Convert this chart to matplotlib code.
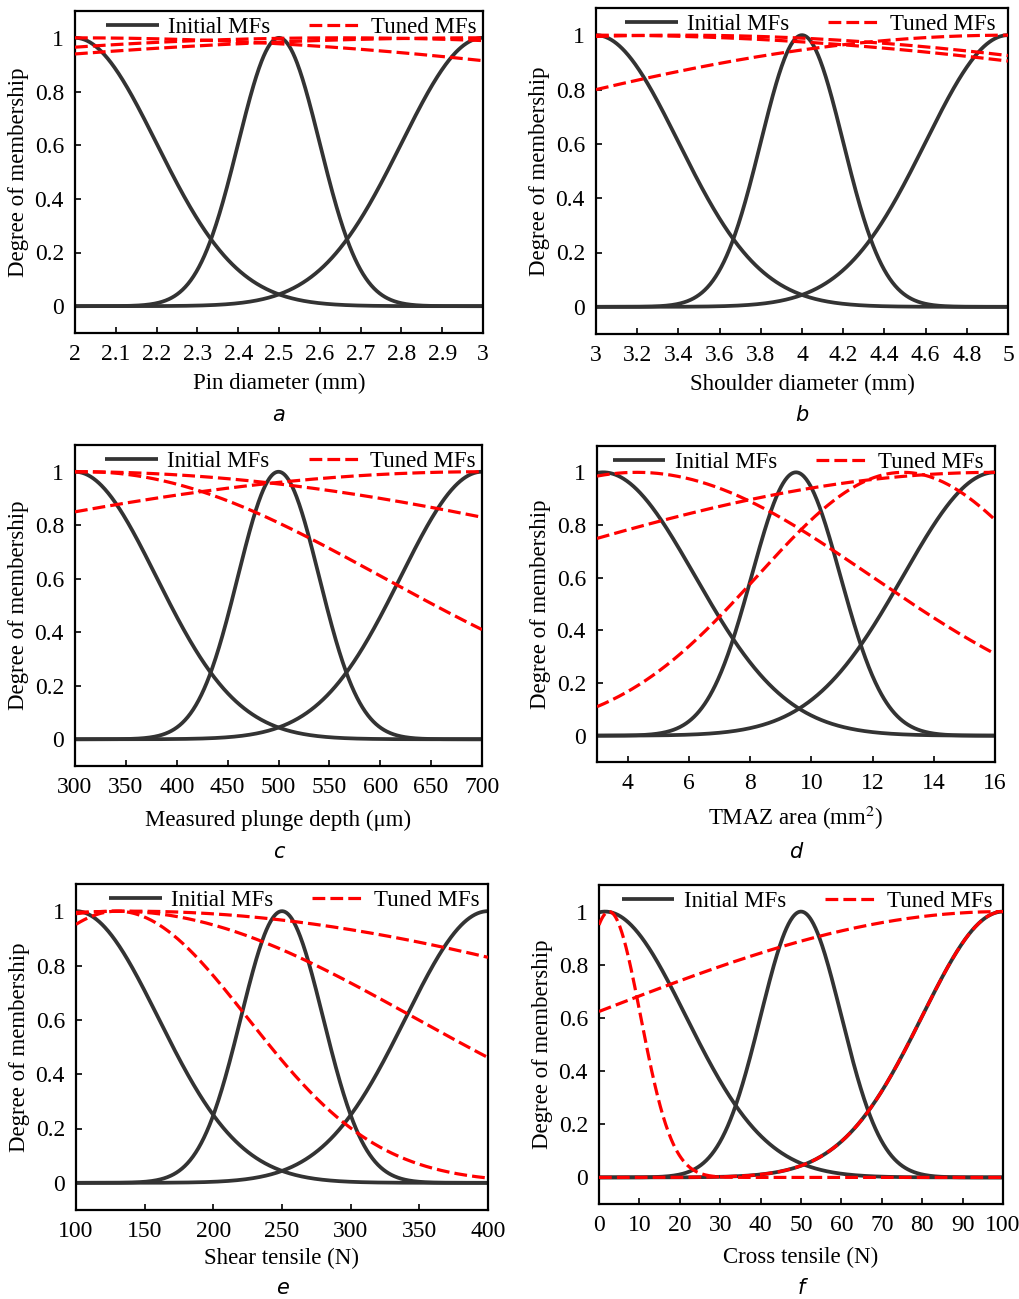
import numpy as np
import matplotlib
matplotlib.use("Agg")
import matplotlib.pyplot as plt

plt.rcParams['font.family'] = ['Liberation Serif', 'DejaVu Serif']
plt.rcParams['mathtext.fontset'] = 'stix'

# ---- data: Gaussian membership-function parameters (center, sigma) ----
panel_letters = ['a', 'b', 'c', 'd', 'e', 'f']
xlabels = ['Pin diameter (mm)', 'Shoulder diameter (mm)', 'Measured plunge depth (μm)',
           'TMAZ area (mm$^2$)', 'Shear tensile (N)', 'Cross tensile (N)']
xlims = [(2, 3), (3, 5), (300, 700), (3, 16), (100, 400), (0, 100)]
xticks_a = [2, 2.1, 2.2, 2.3, 2.4, 2.5, 2.6, 2.7, 2.8, 2.9, 3]
xticks_b = [3, 3.2, 3.4, 3.6, 3.8, 4, 4.2, 4.4, 4.6, 4.8, 5]
xticks_c = [300, 350, 400, 450, 500, 550, 600, 650, 700]
xticks_d = [4, 6, 8, 10, 12, 14, 16]
xticks_e = [100, 150, 200, 250, 300, 350, 400]
xticks_f = [0, 10, 20, 30, 40, 50, 60, 70, 80, 90, 100]
xticklabels_a = ['2', '2.1', '2.2', '2.3', '2.4', '2.5', '2.6', '2.7', '2.8', '2.9', '3']
xticklabels_b = ['3', '3.2', '3.4', '3.6', '3.8', '4', '4.2', '4.4', '4.6', '4.8', '5']
yticks = [0, 0.2, 0.4, 0.6, 0.8, 1]
yticklabels = ['0', '0.2', '0.4', '0.6', '0.8', '1']

# initial MFs: centers and sigmas
init_c_a = [2, 2.5, 3];         init_s_a = [0.2, 0.1, 0.2]
init_c_b = [3, 4, 5];           init_s_b = [0.4, 0.2, 0.4]
init_c_c = [300, 500, 700];     init_s_c = [80, 40, 80]
init_c_d = [3.2, 9.5, 16];      init_s_d = [3.0, 1.45, 3.0]
init_c_e = [100, 250, 400];     init_s_e = [60, 30, 60]
init_c_f = [1.5, 50, 100];      init_s_f = [20, 10, 20]

# tuned MFs: centers and sigmas
tuned_c_a = [2.0, 2.65, 3.0];       tuned_s_a = [2.37, 2.44, 2.84]
tuned_c_b = [3.0, 3.4, 5.0];        tuned_s_b = [4.47, 4.05, 2.99]
tuned_c_c = [300, 310, 700];        tuned_s_c = [655, 292, 702]
tuned_c_d = [4.3, 13.0, 16.0];      tuned_s_d = [7.65, 4.76, 17.1]
tuned_c_e = [140, 130, 130];        tuned_s_e = [426, 217, 95]
tuned_c_f = [2.5, 100, 100];        tuned_s_f = [7.8, 103, 20]

init_c = [init_c_a, init_c_b, init_c_c, init_c_d, init_c_e, init_c_f]
init_s = [init_s_a, init_s_b, init_s_c, init_s_d, init_s_e, init_s_f]
tuned_c = [tuned_c_a, tuned_c_b, tuned_c_c, tuned_c_d, tuned_c_e, tuned_c_f]
tuned_s = [tuned_s_a, tuned_s_b, tuned_s_c, tuned_s_d, tuned_s_e, tuned_s_f]
xticks_all = [xticks_a, xticks_b, xticks_c, xticks_d, xticks_e, xticks_f]
xticklabels_all = [xticklabels_a, xticklabels_b, None, None, None, None]

def gaussmf(x, c, s):
    return np.exp(-(x - c) ** 2 / (2 * s ** 2))

W, H = 1020, 1299
fig = plt.figure(figsize=(W / 100, H / 100), dpi=100)

# axes boxes in pixels: left, top, right, bottom
boxes = [(75, 11, 483, 333), (596, 8, 1008, 334),
         (75, 445, 482, 766), (597, 446, 995, 762),
         (76, 884, 488, 1210), (599, 885, 1003, 1204)]
letter_y = [415, 415, 852, 852, 1288, 1288]
xlabel_y = [383, 384, 820, 818, 1258, 1257]
legend_x = [0.53, 0.52, 0.53, 0.505, 0.53, 0.515]

black = '#333333'
red = '#ff0000'
FS = 16.5

for i in range(6):
    l, t, r, b = boxes[i]
    ax = fig.add_axes([l / W, 1 - b / H, (r - l) / W, (b - t) / H])
    x0, x1 = xlims[i]
    x = np.linspace(x0, x1, 600)
    for k, (c, s) in enumerate(zip(init_c[i], init_s[i])):
        ax.plot(x, gaussmf(x, c, s), color=black, lw=2.7, solid_capstyle='butt',
                label='Initial MFs' if k == 0 else None, zorder=2)
    for k, (c, s) in enumerate(zip(tuned_c[i], tuned_s[i])):
        ax.plot(x, gaussmf(x, c, s), color=red, lw=2.3, dashes=(4, 1.6),
                label='Tuned MFs' if k == 0 else None, zorder=3)
    ax.set_xlim(x0, x1)
    ax.set_ylim(-0.1, 1.1)
    ax.set_yticks(yticks)
    ax.set_yticklabels(yticklabels)
    ax.set_xticks(xticks_all[i])
    if xticklabels_all[i] is not None:
        ax.set_xticklabels(xticklabels_all[i])
    ax.tick_params(direction='in', length=4, width=1.2, labelsize=17, pad=8)
    for sp in ax.spines.values():
        sp.set_linewidth(1.6)
    ax.set_ylabel('Degree of membership', fontsize=FS, labelpad=4)
    cx = (l + r) / 2
    fig.text(cx / W, 1 - xlabel_y[i] / H, xlabels[i], fontsize=FS,
             ha='center', va='center')
    fig.text(cx / W, 1 - letter_y[i] / H, panel_letters[i], fontsize=15,
             style='italic', family='DejaVu Sans', ha='center', va='center')
    ax.legend(loc='upper center', ncol=2, frameon=False, fontsize=FS,
              handlelength=2.3, columnspacing=1.7, handletextpad=0.4,
              borderaxespad=0.0, bbox_to_anchor=(legend_x[i], 1.01))

fig.savefig('out.png', dpi=100)
